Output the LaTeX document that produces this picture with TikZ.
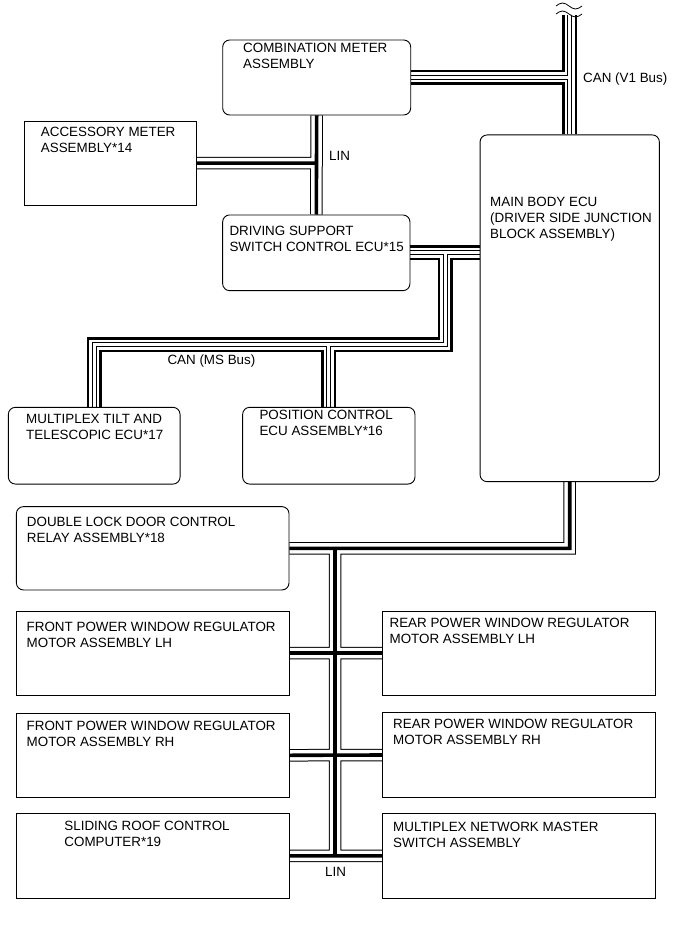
\documentclass[tikz,border=0pt]{standalone}
\usepackage{fontspec}
\setmainfont{Liberation Sans}
\usetikzlibrary{calc}
\pgfdeclarelayer{bg}
\pgfsetlayers{bg,main}
\tikzset{box/.style={draw,line width=0.9pt,inner sep=0pt},
         rbox/.style={box,rounded corners=7pt},
         sz/.style 2 args={minimum width=#1pt,minimum height=#2pt},
         txt/.style={anchor=north west,inner sep=0pt,align=left,
                     font=\fontsize{13.4}{16}\selectfont}}

\begin{document}
\begin{tikzpicture}[x=1pt,y=-1pt]
\useasboundingbox (0,0) rectangle (690,952);
% units
\node[rbox,sz={188}{75}]      (cm)  at (316.7,77.5) {};
\node[box,sz={171.7}{84.3}]   (acc) at (110.2,163.2) {};
\node[rbox,sz={187.3}{75.7}]  (ds)  at (316.3,252.8) {};
\node[rbox,sz={179.3}{346.7}] (mb)  at (569.7,308.3) {};
\node[rbox,sz={171.7}{76.7}]  (mt)  at (94.2,445.7) {};
\node[rbox,sz={172.3}{76.7}]  (pc)  at (328.8,445.7) {};
\node[rbox,sz={272.6}{83.3}]  (dl)  at (152.7,548.3) {};
\node[box,sz={272.6}{84}]     (fl)  at (152.7,653) {};
\node[box,sz={272.3}{84}]     (rl)  at (518.8,653) {};
\node[box,sz={272.6}{84}]     (fr)  at (152.7,755.3) {};
\node[box,sz={272.3}{84.6}]   (rr)  at (518.8,755) {};
\node[box,sz={272.6}{85}]     (sr)  at (152.7,855.8) {};
\node[box,sz={272.3}{85}]     (mm)  at (518.8,855.8) {};
% texts
\node[txt] (cmt)  at (243,42.7)    {COMBINATION METER\\ASSEMBLY};
\node[txt] (acct) at (40.7,126.7)  {ACCESSORY METER\\ASSEMBLY*14};
\node[txt] (dst)  at (229.3,226)   {DRIVING SUPPORT\\SWITCH CONTROL ECU*15};
\node[txt] (mbt)  at (490,197.3)   {MAIN BODY ECU\\(DRIVER SIDE JUNCTION\\BLOCK ASSEMBLY)};
\node[txt] (mtt)  at (26,414)      {MULTIPLEX TILT AND\\TELESCOPIC ECU*17};
\node[txt] (pct)  at (259.3,410)   {POSITION CONTROL\\ECU ASSEMBLY*16};
\node[txt] (dlt)  at (26.7,517.3)  {DOUBLE LOCK DOOR CONTROL\\RELAY ASSEMBLY*18};
\node[txt] (flt)  at (26.5,621.7)  {FRONT POWER WINDOW REGULATOR\\MOTOR ASSEMBLY LH};
\node[txt] (rlt)  at (389.4,618.3) {REAR POWER WINDOW REGULATOR\\MOTOR ASSEMBLY LH};
\node[txt] (frt)  at (26.5,721)    {FRONT POWER WINDOW REGULATOR\\MOTOR ASSEMBLY RH};
\node[txt] (rrt)  at (393,718.7)   {REAR POWER WINDOW REGULATOR\\MOTOR ASSEMBLY RH};
\node[txt] (srt)  at (64.2,820.7)  {SLIDING ROOF CONTROL\\COMPUTER*19};
\node[txt] (mmt)  at (393,822.3)   {MULTIPLEX NETWORK MASTER\\SWITCH ASSEMBLY};
% bus labels
\node[txt] (v1lbl)  at (583,73)     {CAN (V1 Bus)};
\node[txt] (linlbl) at (329,150.7)  {LIN};
\node[txt] (mslbl)  at (167.3,355)  {CAN (MS Bus)};
\node[txt] (linlb2) at (325,866.7)  {LIN};
% bus corners
\coordinate (v1top) at (569.7,15);
\coordinate (cb) at (445,344.5);
\coordinate (lb) at (335,548.3);
\begin{pgfonlayer}{bg}
% CAN
\foreach \w/\c in {15/black,10/white,5/black,3/white}
  \draw[line width=\w pt,\c]
    (v1top) -- (mb.north) (cm.east) -- (cm.east -| mb.north)
    (ds.east) -- (mb.west |- ds.east)
    (cb |- ds.east) -- (cb) -- (cb -| mt.north) -- (mt.north)
    (cb -| pc.north) -- (pc.north);
% LIN
\foreach \w/\c in {12.5/black,10.5/white,3.6/black}
  \draw[line width=\w pt,\c]
    (cm.south) -- (ds.north) (acc.east) -- (acc.east -| ds.north)
    (mb.south) -- (mb.south |- dl.east) -- (dl.east)
    (lb) -- (lb |- sr.east)
    (fl.east) -- (rl.west) (fr.east) -- (rr.west) (sr.east) -- (mm.west);
\end{pgfonlayer}
% cut mark
\draw[line width=0.8pt] (556,6) sin (562.5,3) cos (569,6) sin (575.5,9) cos (582,6);
\draw[line width=0.8pt] (556,14) sin (562.5,11) cos (569,14) sin (575.5,17) cos (582,14);
\end{tikzpicture}
\end{document}
